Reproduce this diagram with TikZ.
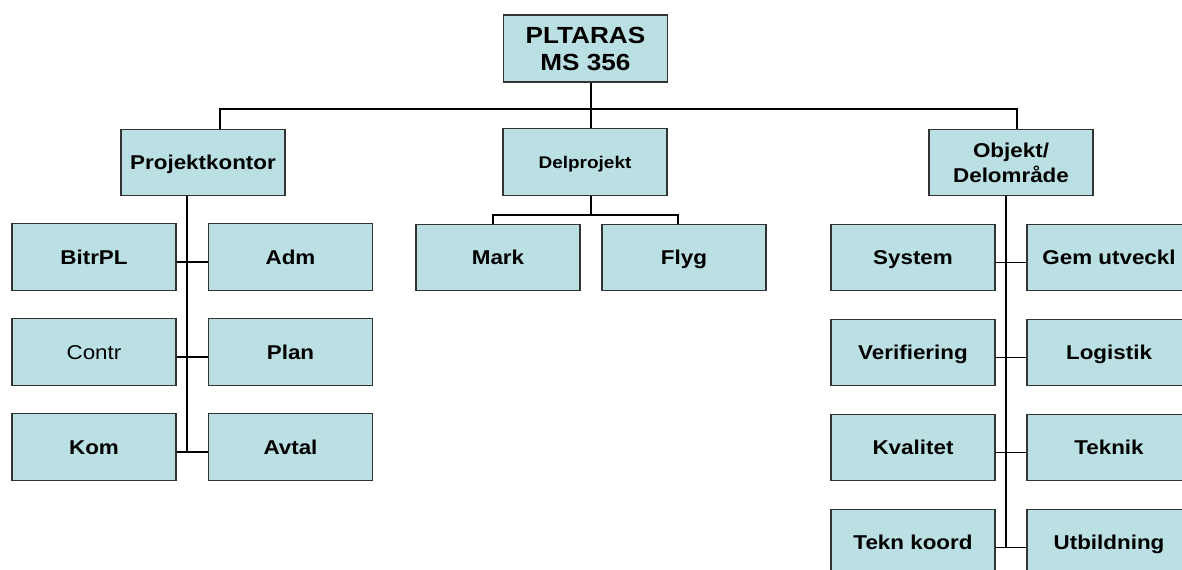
\documentclass[tikz,border=0pt]{standalone}
\usepackage{fontspec}
\setmainfont{Liberation Sans}[FakeStretch=1.12]
\usetikzlibrary{positioning}
\definecolor{boxfill}{HTML}{BBE0E3}

\begin{document}
\begin{tikzpicture}[x=0.75pt,y=-0.75pt,
    unit/.style={draw=black!80,line width=0.8pt,fill=boxfill,
      minimum width=123pt,minimum height=50pt,inner sep=0pt,
      align=center,text height=10.7pt,text depth=0pt,
      font=\fontsize{15}{18.75}\selectfont\bfseries},
    link/.style={draw=black,line width=0.9pt}
  ]
  \useasboundingbox (0,0) rectangle (1182,570);
  \clip (0,0) rectangle (1182,570);
  % top of the chart
  \node[unit,minimum height=50.25pt,text height=33pt,
    font=\fontsize{17.5}{20.5}\selectfont\bfseries]
    (top) at (585.5,48.5) {PLTARAS\\MS 356};
  \node[unit] (proj) at (203,162.5) {Projektkontor};
  \node[unit,text height=9.1pt,font=\fontsize{12.7}{15}\selectfont\bfseries]
    (del) at (585,162) {Delprojekt};
  \node[unit,text height=29.5pt] (obj) at (1011,162.5) {Objekt/\\Delområde};
  % Projektkontor group
  \node[unit] (bitr) at (94,257) {BitrPL};
  \node[unit] (adm) at (290.5,257) {Adm};
  \node[unit,font=\fontsize{15}{18}\selectfont] (contr) at (94,352) {Contr};
  \node[unit] (plan) at (290.5,352) {Plan};
  \node[unit] (kom) at (94,447) {Kom};
  \node[unit] (avtal) at (290.5,447) {Avtal};
  % Delprojekt group
  \node[unit] (mark) at (498,257.5) {Mark};
  \node[unit] (flyg) at (684,257.5) {Flyg};
  % Objekt group
  \node[unit] (sys) at (913,257.5) {System};
  \node[unit] (gem) at (1109,257.5) {Gem utveckl};
  \node[unit] (verif) at (913,352.5) {Verifiering};
  \node[unit] (logist) at (1109,352.5) {Logistik};
  \node[unit] (kval) at (913,447.5) {Kvalitet};
  \node[unit] (tekn) at (1109,447.5) {Teknik};
  \node[unit] (koord) at (913,542.5) {Tekn koord};
  \node[unit] (utb) at (1109,542.5) {Utbildning};
  % bus lines
  \coordinate (busL) at (220,109);
  \coordinate (busM) at (591,109);
  \coordinate (busR) at (1017,109);
  \coordinate (subM) at (591,215);
  \coordinate (spL) at (187,452);
  \coordinate (spR) at (1006,547);
  \draw[link] (top.south -| busM) -- (busM);
  \draw[link] (proj.north -| busL) -- (busL) -- (busR) -- (obj.north -| busR);
  \draw[link] (busM) -- (del.north -| busM);
  \draw[link] (del.south -| subM) -- (subM);
  \draw[link] ([xshift=-3.75pt]mark.north) |- (subM) -| ([xshift=-4.5pt]flyg.north);
  \draw[link] (proj.south -| spL) -- (spL);
  \draw[link] (obj.south -| spR) -- (spR);
  \foreach \a/\b in {bitr/adm,contr/plan,kom/avtal,sys/gem,verif/logist,kval/tekn,koord/utb}
    \draw[link] ([yshift=-3.75pt]\a.east) -- ([yshift=-3.75pt]\b.west);
\end{tikzpicture}
\end{document}
